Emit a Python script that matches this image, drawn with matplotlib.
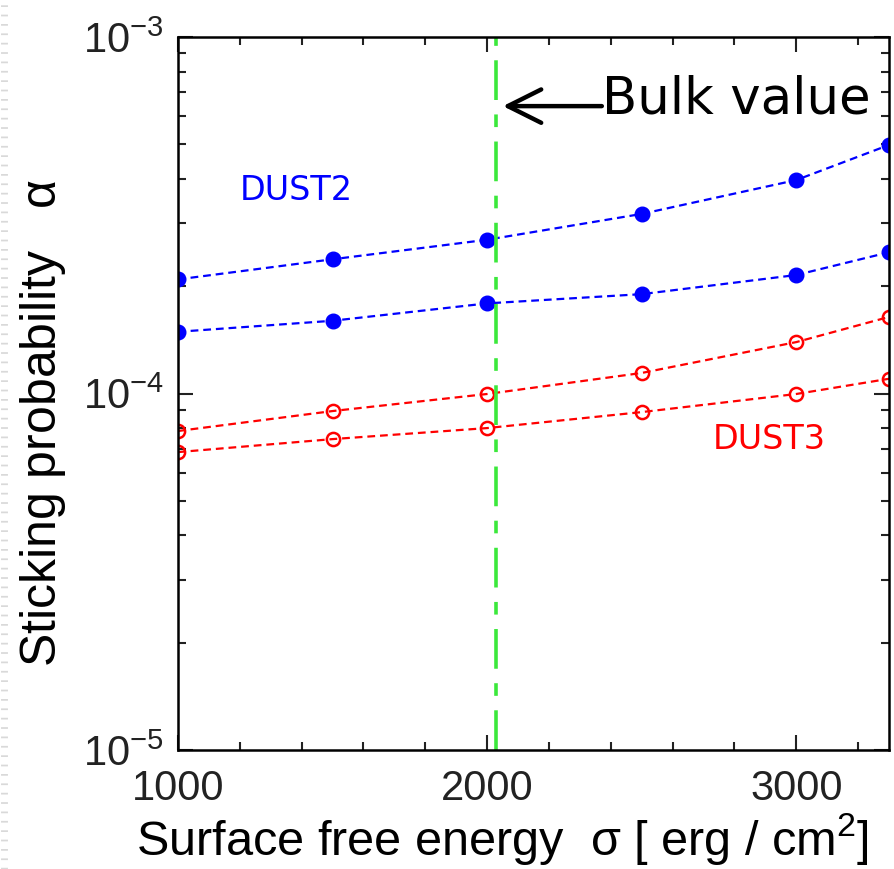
import matplotlib.pyplot as plt
from matplotlib.lines import Line2D
from matplotlib.ticker import MultipleLocator, LogLocator, NullFormatter

# Surface free energy grid [erg/cm^2]
sigma = [1000, 1500, 2000, 2500, 3000, 3300]

# Sticking probability for the two dust models (two cases each)
dust2_high = [2.09e-4, 2.38e-4, 2.70e-4, 3.19e-4, 3.97e-4, 4.98e-4]
dust2_low = [1.49e-4, 1.60e-4, 1.79e-4, 1.90e-4, 2.15e-4, 2.49e-4]
dust3_high = [7.85e-5, 8.93e-5, 9.97e-5, 1.142e-4, 1.394e-4, 1.64e-4]
dust3_low = [6.85e-5, 7.45e-5, 8.0e-5, 8.87e-5, 9.97e-5, 1.10e-4]

bulk_sigma = 2030

plt.rcParams.update(
    {
        "font.family": ["Liberation Sans", "DejaVu Sans"],
        "font.size": 30,
        "mathtext.default": "regular",
        "axes.linewidth": 1.8,
    }
)

fig = plt.figure(figsize=(8.94, 8.69), dpi=100)
ax = fig.add_axes([0.1991, 0.1369, 0.7953, 0.8205])

# faint ruled strip along the left edge
fig.add_artist(Line2D([0.004, 0.004], [0, 1], lw=5, color="#d9d9d9",
                      linestyle=(0, (0.25, 1.1))))

dash = (0, (3.5, 2.2))
for vals in (dust2_high, dust2_low):
    ax.plot(sigma, vals, linestyle=dash, color="blue", lw=1.6,
            marker="o", markersize=10.5, markerfacecolor="blue",
            markeredgecolor="blue")
for vals in (dust3_high, dust3_low):
    ax.plot(sigma, vals, linestyle=dash, color="red", lw=1.6,
            marker="o", markersize=9.5, markerfacecolor="none",
            markeredgecolor="red", markeredgewidth=1.8)

ax.axvline(bulk_sigma, color="#3be83b", lw=2.6,
           linestyle=(0, (11, 4, 3.5, 4)))

ax.set_yscale("log")
ax.set_xlim(1000, 3300)
ax.set_ylim(1e-5, 1e-3)

ax.xaxis.set_major_locator(MultipleLocator(1000))
ax.xaxis.set_minor_locator(MultipleLocator(200))
ax.yaxis.set_major_locator(LogLocator(base=10))
ax.yaxis.set_minor_locator(LogLocator(base=10, subs=range(2, 10)))
ax.yaxis.set_minor_formatter(NullFormatter())

ax.tick_params(which="both", direction="in", top=True, right=True,
               width=1.5, colors="#222222")
ax.tick_params(which="major", length=11, pad=10)
ax.tick_params(which="minor", length=6)
ax.tick_params(axis="x", which="major", pad=14)

ax.set_xlabel(r"Surface free energy  $\sigma$ [ erg / cm$^2$]",
              fontsize=35, labelpad=2)
ax.set_ylabel(r"Sticking probability   $\alpha$", fontsize=36, labelpad=6)
ax.xaxis.set_label_coords(0.457, -0.085)
ax.yaxis.set_label_coords(-0.155, 0.459)

ax.text(1200, 3.72e-4, "DUST2", color="blue", fontsize=24,
        ha="left", va="center", family=["DejaVu Sans"])
ax.text(2729, 7.41e-5, "DUST3", color="red", fontsize=24,
        ha="left", va="center", family=["DejaVu Sans"])

ax.annotate("", xy=(bulk_sigma + 12, 6.4e-4), xytext=(2380, 6.4e-4),
            arrowprops=dict(arrowstyle="->,head_length=0.8,head_width=0.4",
                            color="black", lw=3.2))
ax.text(2370, 6.7e-4, "Bulk value", fontsize=37, ha="left", va="center",
        family=["DejaVu Sans"])

fig.savefig("out.png", dpi=100)
